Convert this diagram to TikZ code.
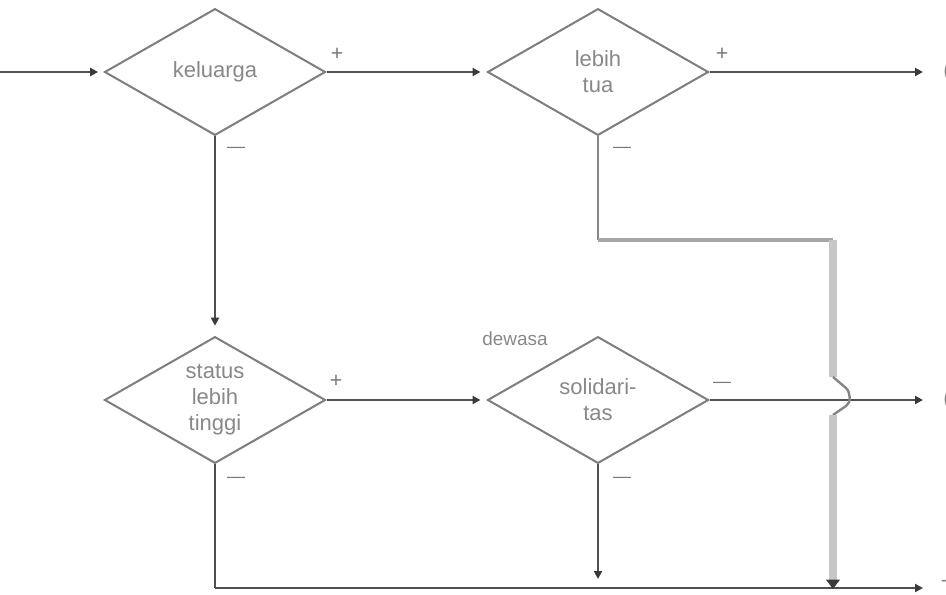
\documentclass[tikz,border=0pt]{standalone}
\usepackage{fontspec}
\setmainfont{Liberation Sans}
\usetikzlibrary{shapes.geometric,arrows.meta}
\definecolor{lineC}{HTML}{505050}
\definecolor{diaC}{HTML}{7E7E7E}
\definecolor{txtC}{HTML}{888888}
\definecolor{tipC}{HTML}{3A3A3A}
\definecolor{greyA}{HTML}{858585}
\definecolor{greyB}{HTML}{A6A6A6}
\definecolor{greyC}{HTML}{C6C6C6}
\begin{document}
\begin{tikzpicture}[x=0.75pt,y=-0.75pt,
  decision/.style={diamond,draw=diaC,line width=1.5pt,inner sep=0pt,
    minimum width=165.75pt,minimum height=95pt,aspect=1.75,
    text=txtC,align=center,
    font=\fontsize{16.5}{19.5}\selectfont},
  flow/.style={draw=lineC,line width=1.5pt},
  arrowtip/.style={-{Triangle[length=6pt,width=6pt,color=tipC]}},
  signtxt/.style={text=txtC!90!black,inner sep=0pt,font=\fontsize{16}{16}\selectfont},
  dashtxt/.style={text=txtC!90!black,inner sep=0pt,font=\fontsize{13.5}{13.5}\selectfont},
  edgetxt/.style={text=txtC,inner sep=0pt,anchor=west,font=\fontsize{16.5}{19.5}\selectfont},
  pathA/.style={draw=greyA,line width=2.2pt},
  pathB/.style={draw=greyB,line width=3pt},
  pathC/.style={draw=greyC,line width=6pt},
  hop/.style={draw=greyA,line width=1.8pt,line join=round}]
\useasboundingbox (0,0) rectangle (946,594);

% decisions
\node[decision] (kel) at (215,72)  {keluarga};
\node[decision] (tua) at (598,72)  {lebih\\tua};
\node[decision] (sta) at (215,400) {status\\lebih\\tinggi};
\node[decision] (sol) at (598,400) {solidari-\\tas};

% free ends and bends
\coordinate (in)  at (0,72);
\coordinate (o1)  at (923,72);
\coordinate (o2)  at (923,400);
\coordinate (o3)  at (923,588);
\coordinate (bl)  at (215,588);
\coordinate (sd)  at (598,579);
\coordinate (g1)  at (598,240);
\coordinate (g2)  at (833,240);
\coordinate (h1)  at (833,377);
\coordinate (h2)  at (833,415);
\coordinate (g3)  at (833,589);

% main flow
\draw[flow,arrowtip,shorten >=4pt] (in) -- (kel.west);
\draw[flow,arrowtip,shorten >=4.5pt] (kel.east) -- (tua.west);
\draw[flow,arrowtip] (tua.east) -- (o1);
\draw[flow,arrowtip,shorten >=7.5pt] (kel.south) -- (sta.north);
\draw[flow,arrowtip,shorten >=4.5pt] (sta.east) -- (sol.west);
\draw[flow,arrowtip] (sol.east) -- (o2);
\draw[flow,arrowtip] (sol.south) -- (sd);
\draw[flow] (sta.south) -- (bl);
\draw[flow,arrowtip] (bl) -- (o3);

% route from "lebih tua" down to the bottom line, hopping over the middle line
\draw[pathA] (tua.south) -- (g1);
\draw[pathB] (g1) -- (g2);
\draw[pathC] (g2) -- (h1);
\draw[hop] (h1) -- (846,388) .. controls (851,393) and (851,403) .. (846,406) -- (h2);
\draw[pathC,-{Triangle[length=7pt,width=10pt,color=tipC]}] (h2) -- (g3);

% branch signs
\node[signtxt] (p1) at (337,54)  {+};
\node[signtxt] (p2) at (722,54)  {+};
\node[signtxt] (p3) at (336,381) {+};
\node[dashtxt] (m1) at (236,150) {—};
\node[dashtxt] (m2) at (622,150) {—};
\node[dashtxt] (m3) at (236,480) {—};
\node[dashtxt] (m4) at (722,385) {—};
\node[dashtxt] (m5) at (622,480) {—};

% condition label
\node[text=txtC,inner sep=0pt,font=\fontsize{14.2}{14.2}\selectfont] (dw) at (515,339) {dewasa};

% outcome labels running off the right edge
\node[edgetxt] (r1) at (943,72)  {(};
\node[edgetxt] (r2) at (943,400) {(};
\node[edgetxt] (r3) at (941,588) {T};
\end{tikzpicture}
\end{document}
